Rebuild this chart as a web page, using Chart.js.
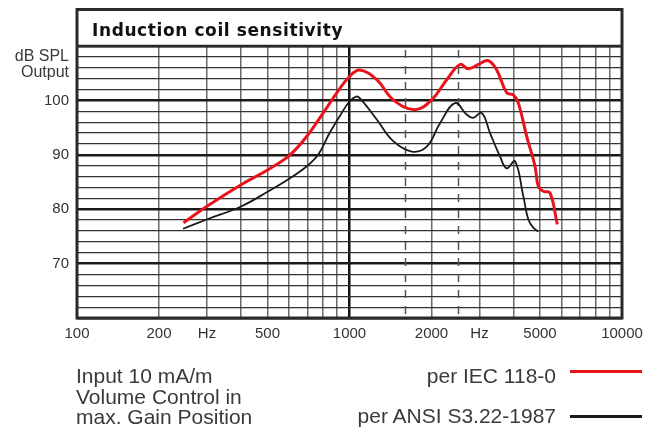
<!DOCTYPE html>
<html><head><meta charset="utf-8">
<script src="https://cdn.jsdelivr.net/npm/chart.js@4"></script>
<style>
html,body{margin:0;padding:0;background:#fff;}
#wrap{position:relative;width:659px;height:433px;overflow:hidden;}
canvas{position:absolute;left:0;top:0;}
.t{position:absolute;font-family:"Liberation Sans",Arial,sans-serif;color:#3a3a3a;white-space:nowrap;}
.ln{position:absolute;height:3px;}
</style></head><body>
<div id="wrap">
<canvas id="c" width="659" height="433"></canvas>
<div class="t" style="left:92px;top:20px;font-family:'DejaVu Sans';font-weight:bold;font-size:17px;line-height:20px;letter-spacing:0.6px;color:#111">Induction coil sensitivity</div>
<div class="t" style="right:590px;top:48px;font-size:16px;line-height:16px;text-align:right">dB SPL<br>Output</div>
<div class="t" style="left:76px;top:366px;font-size:21px;line-height:20.5px">Input 10 mA/m<br>Volume Control in<br>max. Gain Position</div>
<div class="t" style="right:103px;top:366px;font-size:21px;line-height:20.5px;text-align:right">per IEC 118-0</div>
<div class="t" style="right:103px;top:406px;font-size:21px;line-height:20.5px;text-align:right">per ANSI S3.22-1987</div>
<div class="ln" style="left:570px;width:72px;top:370px;background:#e8141c"></div>
<div class="ln" style="left:570px;width:72px;top:415px;background:#1a1a1a"></div>
</div>
<script>
// Frequency axis ticks (Hz)
const freqTicks = [100,200,300,400,500,600,700,800,900,1000,2000,3000,4000,5000,6000,7000,8000,9000,10000];
const freqLabels = {100:'100',200:'200',300:'Hz',500:'500',1000:'1000',2000:'2000',3000:'Hz',5000:'5000',10000:'10000'};
const dashedFreqs = [1600,2500];
// Output axis (dB SPL)
const dbMin = 60, dbMax = 110, dbStep = 2;
const dbLabels = {70:'70',80:'80',90:'90',100:'100'};

// per IEC 118-0 (red)
const iecFreq = [246,299,400,504,605,697,801,898,1000,1091,1259,1448,1739,2003,2274,2544,2729,2970,3230,3469,3775,3991,4165,4469,4795,4931,5141,5443,5789];
const iecDb   = [77.5,80.5,84.5,87.3,90.0,93.4,97.7,101.4,104.4,105.6,103.8,100.1,98.3,100.1,103.8,106.6,105.8,106.6,107.3,105.6,101.4,101.0,99.5,93.4,87.9,84.2,83.3,83.0,77.2];
// per ANSI S3.22-1987 (black)
const ansiFreq = [245,299,400,504,605,697,767,845,936,1000,1057,1091,1259,1448,1691,1920,2148,2439,2692,2838,3055,3279,3567,3775,4049,4343,4532,4726,4931];
const ansiDb   = [76.4,78.1,80.5,83.3,85.7,87.9,90.0,94.0,97.7,99.8,100.7,100.4,96.5,92.5,90.6,91.5,95.8,99.5,97.4,96.8,97.7,94.0,89.7,87.5,88.8,82.4,78.1,76.6,75.9];

const toPts = (xs, ys) => xs.map((x, i) => ({x, y: ys[i]}));

const framePlugin = {
  id: 'frame',
  beforeDatasetsDraw(chart) {
    const {ctx, chartArea: a, scales: {x}} = chart;
    ctx.save();
    ctx.strokeStyle = '#555';
    ctx.lineWidth = 1.5;
    ctx.setLineDash([8, 8]);
    dashedFreqs.forEach(f => {
      const px = Math.round(x.getPixelForValue(f)) + 0.5;
      ctx.beginPath(); ctx.moveTo(px, a.top + 4); ctx.lineTo(px, a.bottom); ctx.stroke();
    });
    ctx.restore();
  },
  afterDraw(chart) {
    const {ctx, chartArea: a} = chart;
    ctx.save();
    ctx.strokeStyle = '#2a2a2a';
    ctx.lineWidth = 3;
    ctx.strokeRect(a.left, 9.5, a.right - a.left, a.bottom - 9.5);
    ctx.lineWidth = 2.5;
    ctx.beginPath(); ctx.moveTo(a.left, a.top); ctx.lineTo(a.right, a.top); ctx.stroke();
    ctx.restore();
  }
};

new Chart(document.getElementById('c'), {
  type: 'line',
  data: {
    datasets: [
      {label: 'per IEC 118-0', data: toPts(iecFreq, iecDb), borderColor: '#e8141c', borderWidth: 3, pointRadius: 0, tension: 0.4, fill: false},
      {label: 'per ANSI S3.22-1987', data: toPts(ansiFreq, ansiDb), borderColor: '#1a1a1a', borderWidth: 1.8, pointRadius: 0, tension: 0.4, fill: false}
    ]
  },
  options: {
    responsive: false,
    animation: false,
    devicePixelRatio: 1,
    layout: {padding: {top: 46, right: 37, bottom: 0, left: 0}},
    plugins: {legend: {display: false}, tooltip: {enabled: false}},
    scales: {
      x: {
        type: 'logarithmic', min: 100, max: 10000,
        afterBuildTicks: s => { s.ticks = freqTicks.map(v => ({value: v})); },
        afterFit: s => { s.height = 115; },
        border: {display: false},
        grid: {
          drawTicks: false,
          color: c => (c.tick && c.tick.value === 1000) ? '#111' : '#6a6a6a',
          lineWidth: c => (c.tick && c.tick.value === 1000) ? 2.5 : 1.5
        },
        ticks: {
          autoSkip: false, maxRotation: 0, minRotation: 0, padding: 7,
          color: '#333', font: {family: 'Liberation Sans', size: 15},
          callback: v => freqLabels[v] || ''
        }
      },
      y: {
        min: dbMin, max: dbMax,
        afterFit: s => { s.width = 77; },
        border: {display: false},
        grid: {
          drawTicks: false,
          color: c => (c.tick && c.tick.value % 10 === 0) ? '#1a1a1a' : '#333',
          lineWidth: c => (c.tick && c.tick.value % 10 === 0) ? 2.5 : 1.2
        },
        ticks: {
          stepSize: dbStep, autoSkip: false, padding: 8,
          color: '#333', font: {family: 'Liberation Sans', size: 15},
          callback: v => dbLabels[v] || ''
        }
      }
    }
  },
  plugins: [framePlugin]
});
</script>
</body></html>
